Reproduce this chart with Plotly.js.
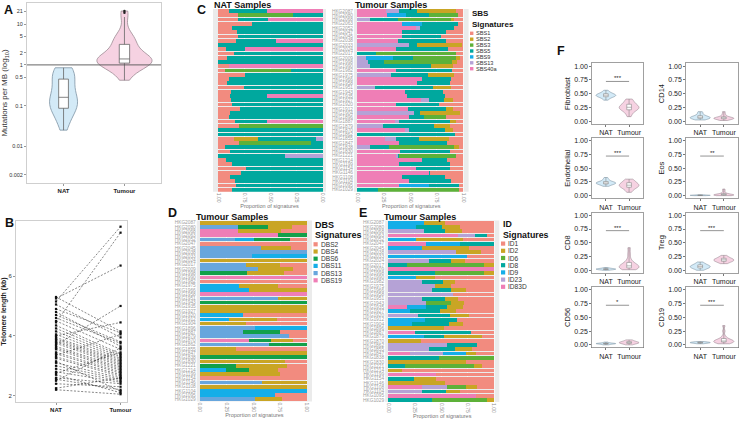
<!DOCTYPE html>
<html>
<head>
<meta charset="utf-8">
<script src="https://cdn.plot.ly/plotly-3.0.1.min.js"></script>
<style>
  body { margin: 0; background: #fff; }
  #fig { width: 742px; height: 422px; }
</style>
</head>
<body>
<div id="fig"></div>
<script>
// ---- data ----
const groups = ['NAT', 'Tumour'];

// A: mutations per MB
const mutNat = [0.025, 0.03, 0.036, 0.042, 0.05, 0.058, 0.065, 0.072, 0.078, 0.082, 0.085, 0.09, 0.095, 0.1, 0.11,
  0.12, 0.125, 0.13, 0.14, 0.145, 0.15, 0.16, 0.17, 0.19, 0.21, 0.23, 0.26, 0.29, 0.32, 0.36, 0.4, 0.44, 0.45,
  0.5, 0.55, 0.6, 0.65, 0.7, 0.74, 0.78, 0.82, 0.84, 0.85];
const mutTumour = [0.42, 0.5, 0.6, 0.7, 0.8, 0.88, 0.95, 1.0, 1.03, 1.06, 1.1, 1.12, 1.15, 1.18, 1.2, 1.22, 1.25,
  1.28, 1.3, 1.33, 1.36, 1.4, 1.45, 1.5, 1.6, 1.7, 1.8, 1.95, 2.1, 2.3, 2.6, 2.9, 3.3, 3.6, 3.9, 4.2, 4.6, 5.0,
  5.2, 7.5, 15, 19, 21];
const mutTicks = [0.002, 0.01, 0.1, 0.5, 1, 2, 5, 10, 21];

// B: telomere length, paired
const telNat = [5.15, 4.45, 5.25, 3.7, 4.0, 5.3, 4.9, 5.05, 4.7, 4.6, 4.8, 4.5, 4.35, 4.25, 4.15, 4.05, 3.95, 3.9,
  3.85, 3.8, 3.75, 3.65, 3.6, 3.55, 3.45, 3.4, 3.3, 3.25, 3.1, 3.0, 2.9, 2.8, 2.75, 2.6, 2.5, 2.4, 2.25, 2.55, 2.7,
  2.2, 3.35, 3.15];
const telTumour = [7.65, 7.45, 6.35, 5.0, 4.45, 4.15, 4.1, 3.95, 3.8, 3.75, 3.65, 3.55, 3.4, 3.35, 3.3, 3.25, 3.2,
  3.15, 3.1, 3.05, 3.0, 2.95, 2.9, 2.85, 2.8, 2.75, 2.7, 2.65, 2.6, 2.55, 2.5, 2.45, 3.45, 2.4, 3.6, 2.3, 2.6, 2.2,
  2.1, 2.05, 4.05, 2.15];

const sampleIds = ['HKG2087', 'HKG2080', 'HKG2068', 'HKG2063', 'HKG2052', 'HKG2047', 'HKG2045', 'HKG2038',
  'HKG2033', 'HKG2024', 'HKG2017', 'HKG2009', 'HKG1998', 'HKG1990', 'HKG1982', 'HKG1975', 'HKG1966', 'HKG1958',
  'HKG1951', 'HKG1943', 'HKG1935', 'HKG1927', 'HKG1920', 'HKG1912', 'HKG1904', 'HKG1896', 'HKG1887', 'HKG1879',
  'HKG1870', 'HKG1862', 'HKG1855', 'HKG1847', 'HKG1838', 'HKG1830', 'HKG1221', 'HKG1214', 'HKG1199', 'HKG1154',
  'HKG1146', 'HKG1108', 'HKG1104', 'HKG1095', 'HKG1029'];

// C: SBS signatures, one row per sample
const sbsNames = ['SBS1', 'SBS2', 'SBS3', 'SBS5', 'SBS9', 'SBS13', 'SBS40a'];
const sbsColors = ['#F28B7F', '#C9A524', '#5DB139', '#00A89E', '#15AEE8', '#B5A2D6', '#EF7EB6'];
const sbsNat = [
  [.10, 0, 0, .365, 0, 0, .535], [.19, 0, .52, .29, 0, 0, 0], [.185, 0, 0, .29, 0, 0, .525], [.32, 0, 0, .68, 0, 0, 0],
  [.13, 0, 0, .87, 0, 0, 0], [.18, 0, 0, .82, 0, 0, 0], [.185, 0, 0, .815, 0, 0, 0], [.17, 0, 0, .38, 0, 0, .45],
  [0, 0, 0, 1, 0, 0, 0], [.07, 0, 0, .19, 0, 0, .74], [.15, 0, 0, .85, 0, 0, 0], [.085, 0, 0, .915, 0, 0, 0],
  [0, 0, 0, 1, 0, 0, 0], [.10, 0, 0, 0, 0, 0, .90], [.065, 0, .63, .305, 0, 0, 0], [.26, 0, 0, .74, 0, 0, 0],
  [.10, 0, 0, .90, 0, 0, 0], [.08, 0, 0, .92, 0, 0, 0], [.245, 0, 0, .755, 0, 0, 0], [.12, 0, 0, .88, 0, 0, 0],
  [.11, 0, 0, .36, 0, 0, .53], [.125, 0, 0, .875, 0, 0, 0], [.13, 0, 0, .87, 0, 0, 0], [.21, 0, 0, .79, 0, 0, 0],
  [.115, 0, 0, .885, 0, 0, 0], [.10, 0, 0, .90, 0, 0, 0], [.16, 0, 0, .305, 0, 0, .535], [.20, 0, .80, 0, 0, 0, 0],
  [0, 0, 0, 1, 0, 0, 0], [0, 0, 0, 1, 0, 0, 0], [.15, .23, 0, .55, 0, .07, 0], [.20, 0, .69, .11, 0, 0, 0],
  [.065, 0, 0, .935, 0, 0, 0], [.11, 0, 0, .89, 0, 0, 0], [0, 0, 0, .635, 0, .365, 0], [.075, 0, 0, .925, 0, 0, 0],
  [.135, 0, 0, .865, 0, 0, 0], [.27, 0, 0, .73, 0, 0, 0], [.22, 0, 0, .78, 0, 0, 0], [.11, 0, 0, .89, 0, 0, 0],
  [.16, 0, 0, .84, 0, 0, 0], [.165, 0, 0, .835, 0, 0, 0], [.13, 0, 0, .87, 0, 0, 0]
];
const sbsTumour = [
  [.07, .37, 0, .17, 0, .12, .27], [.05, 0, .27, .22, .18, 0, .28], [.09, .03, .50, .26, 0, .12, 0],
  [.05, 0, 0, .335, .195, 0, .42], [.085, 0, 0, .32, 0, .045, .55], [.16, 0, 0, .42, 0, 0, .42],
  [.21, 0, 0, .37, 0, 0, .42], [.165, 0, 0, .45, 0, 0, .385], [.01, .425, 0, .075, 0, .49, 0],
  [.14, 0, 0, .49, 0, 0, .37], [.065, 0, .755, .18, 0, 0, 0], [.035, .03, .405, .19, .26, .08, 0],
  [.06, .045, .64, .155, 0, .10, 0], [.095, .21, 0, .57, 0, .125, 0], [.11, 0, 0, .52, 0, 0, .37],
  [.085, .245, 0, .355, 0, .315, 0], [.12, 0, 0, .27, 0, 0, .61], [.125, 0, 0, .315, 0, 0, .56],
  [.12, .165, 0, .545, 0, .17, 0], [.19, 0, 0, .36, 0, 0, .45], [.17, 0, 0, .36, 0, 0, .47],
  [.095, .09, 0, .14, 0, .075, .60], [.23, 0, 0, .40, 0, 0, .37], [.095, .065, 0, .36, 0, 0, .48],
  [.03, .38, 0, .055, 0, .535, 0], [.165, 0, .21, .135, 0, 0, .49], [.07, .06, 0, .475, 0, .035, .36],
  [.125, .15, 0, .485, 0, .24, 0], [.095, .08, 0, .34, 0, .035, .45], [.08, 0, 0, .92, 0, 0, 0],
  [.135, .285, 0, .21, 0, .11, .26], [.155, 0, 0, .45, 0, 0, .395], [.04, .045, .615, .175, 0, .125, 0],
  [.13, 0, 0, .47, 0, 0, .40], [.065, 0, .54, .015, 0, .015, .365], [.15, 0, 0, .24, 0, 0, .61],
  [.13, 0, 0, .475, 0, 0, .395], [.125, 0, 0, .32, 0, 0, .555], [.31, 0, 0, .015, 0, 0, .675],
  [.175, 0, 0, .405, 0, 0, .42], [.115, 0, 0, .395, 0, 0, .49], [.04, 0, 0, .285, .28, 0, .395],
  [.045, 0, .755, .20, 0, 0, 0]
];

// D: DBS signatures
const dbsNames = ['DBS2', 'DBS4', 'DBS6', 'DBS11', 'DBS13', 'DBS19'];
const dbsColors = ['#F28B7F', '#C9A524', '#12A04A', '#15AEE8', '#67A6DD', '#EF7EB6'];
const dbsTumour = [
  [0, 1, 0, 0, 0, 0], [.14, .225, .275, 0, .36, 0], [.24, .40, 0, 0, 0, .36], [0, 0, .27, 0, 0, .73],
  [.155, 0, .335, .18, .33, 0], [1, 0, 0, 0, 0, 0], [.145, .285, 0, 0, .57, 0], [0, 0, 0, 0, 1, 0],
  [0, 0, 0, .515, .485, 0], [0, 1, 0, 0, 0, 0], [.25, .32, 0, 0, .43, 0], [.125, .335, 0, 0, .54, 0],
  [.21, .345, .445, 0, 0, 0], [0, 0, 0, 0, 0, 1], [1, 0, 0, 0, 0, 0], [.27, .365, 0, .365, 0, 0],
  [0, .545, 0, .455, 0, 0], [0, 0, 0, 0, 0, 1], [0, .27, 0, 0, .73, 0], [0, 0, 1, 0, 0, 0],
  [0, 1, 0, 0, 0, 0], [0, 1, 0, 0, 0, 0], [.60, 0, 0, .40, 0, 0], [.28, .45, 0, .27, 0, 0],
  [.57, .43, 0, 0, 0, 0], [0, 0, 0, .485, .515, 0], [.25, 0, .35, 0, .40, 0], [.165, 0, 0, 0, .835, 0],
  [.13, .205, .205, 0, 0, .46], [0, 0, .35, 0, .65, 0], [.665, .335, 0, 0, 0, 0], [0, 1, 0, 0, 0, 0],
  [0, 0, 1, 0, 0, 0], [.20, .80, 0, 0, 0, 0], [.185, .48, .335, 0, 0, 0], [.265, .28, .21, .245, 0, 0],
  [.25, .75, 0, 0, 0, 0], [1, 0, 0, 0, 0, 0], [0, .42, 0, 0, .58, 0], [0, 1, 0, 0, 0, 0],
  [0, 0, 0, 1, 0, 0], [.30, 0, 0, .70, 0, 0], [.235, .245, 0, 0, .52, 0]
];

// E: ID signatures
const idNames = ['ID1', 'ID2', 'ID6', 'ID8', 'ID9', 'ID23', 'ID83D'];
const idColors = ['#F28B7F', '#C9A524', '#5DB139', '#00A89E', '#15AEE8', '#B5A2D6', '#EF7EB6'];
const idTumour = [
  [.46, .20, 0, 0, .34, 0, 0], [.32, .175, 0, .245, .26, 0, 0], [.30, .16, 0, .20, 0, .34, 0],
  [.07, 0, 0, .11, 0, .165, .655], [.29, .45, 0, 0, .26, 0, 0], [0, 0, 0, .325, .32, 0, .355],
  [.235, .45, 0, 0, .315, 0, 0], [.12, .235, 0, 0, 0, .645, 0], [.26, 0, 0, 0, .74, 0, 0],
  [.275, .135, 0, .205, 0, .385, 0], [0, .095, .725, .18, 0, 0, 0], [0, 0, 0, 0, 0, 0, 1],
  [0, .095, .465, .44, 0, 0, 0], [.56, .18, 0, 0, .26, 0, 0], [.37, .11, 0, .205, 0, .315, 0],
  [.41, .15, 0, 0, 0, .44, 0], [.265, .14, 0, .185, 0, .41, 0], [.385, 0, 0, 0, 0, .615, 0],
  [.34, .125, 0, .22, 0, .315, 0], [.28, .13, .235, 0, 0, .355, 0], [.29, .15, 0, .205, .175, 0, .18],
  [.36, .15, 0, .285, .205, 0, 0], [.235, .18, 0, .30, 0, .285, 0], [.35, 0, 0, .30, .35, 0, 0],
  [.295, .13, 0, .355, .22, 0, 0], [.475, .525, 0, 0, 0, 0, 0], [.22, 0, 0, .53, 0, 0, .25],
  [.115, .355, 0, .19, .34, 0, 0], [.69, .31, 0, 0, 0, 0, 0], [.165, 0, 0, .275, 0, .56, 0],
  [.205, .165, 0, .245, 0, .385, 0], [.17, .095, 0, 0, .215, .315, .205], [0, 0, .52, .48, 0, 0, 0],
  [.265, .735, 0, 0, 0, 0, 0], [.115, .07, .655, .16, 0, 0, 0], [.87, .13, 0, 0, 0, 0, 0],
  [.55, 0, 0, 0, 0, 0, .45], [.55, .205, 0, .245, 0, 0, 0], [.465, .535, 0, 0, 0, 0, 0],
  [.16, .105, .175, 0, 0, .245, .315], [.325, .125, 0, .23, 0, .32, 0], [.17, 0, 0, 0, 0, 0, .83],
  [0, .07, .52, .41, 0, 0, 0]
];

// F: cell type fractions
const cellTypes = ['Fibroblast', 'CD14', 'Endothelial', 'Eos', 'CD8', 'Treg', 'CD56', 'CD19'];
const cellSig = ['***', '', '***', '**', '***', '***', '*', '***'];
const fibroblastNat = [0.38, 0.41, 0.43, 0.44, 0.45, 0.46, 0.46, 0.47, 0.47, 0.48, 0.49, 0.50, 0.51, 0.53, 0.56];
const fibroblastTumour = [0.08, 0.14, 0.18, 0.20, 0.22, 0.23, 0.24, 0.25, 0.26, 0.27, 0.29, 0.31, 0.34, 0.37, 0.40];
const cd14Nat = [0.02, 0.03, 0.04, 0.05, 0.05, 0.06, 0.06, 0.07, 0.07, 0.08, 0.09, 0.10, 0.12, 0.15, 0.17];
const cd14Tumour = [0.01, 0.02, 0.03, 0.04, 0.04, 0.05, 0.05, 0.05, 0.06, 0.06, 0.07, 0.08, 0.10, 0.13, 0.17];
const endothelialNat = [0.17, 0.19, 0.20, 0.21, 0.22, 0.22, 0.23, 0.23, 0.24, 0.24, 0.25, 0.26, 0.28, 0.30, 0.33];
const endothelialTumour = [0.06, 0.10, 0.13, 0.15, 0.16, 0.17, 0.18, 0.19, 0.20, 0.21, 0.22, 0.24, 0.26, 0.28, 0.30];
const eosNat = [0, 0, 0.002, 0.003, 0.004, 0.005, 0.005, 0.006, 0.007, 0.008, 0.009, 0.01, 0.011, 0.012, 0.015];
const eosTumour = [0, 0.002, 0.005, 0.008, 0.01, 0.012, 0.015, 0.018, 0.02, 0.025, 0.03, 0.04, 0.06, 0.09, 0.12];
const cd8Nat = [0, 0.005, 0.01, 0.012, 0.015, 0.018, 0.02, 0.02, 0.022, 0.025, 0.028, 0.03, 0.035, 0.04, 0.05];
const cd8Tumour = [0.01, 0.02, 0.03, 0.04, 0.05, 0.06, 0.07, 0.08, 0.09, 0.10, 0.12, 0.15, 0.20, 0.30, 0.41];
const tregNat = [0.0, 0.02, 0.03, 0.04, 0.05, 0.06, 0.06, 0.07, 0.07, 0.08, 0.09, 0.10, 0.11, 0.13, 0.15];
const tregTumour = [0.12, 0.14, 0.15, 0.16, 0.17, 0.18, 0.18, 0.19, 0.19, 0.20, 0.21, 0.22, 0.23, 0.25, 0.27];
const cd56Nat = [0, 0.005, 0.01, 0.015, 0.018, 0.02, 0.02, 0.022, 0.025, 0.025, 0.028, 0.03, 0.035, 0.04, 0.05];
const cd56Tumour = [0, 0.01, 0.02, 0.025, 0.03, 0.035, 0.04, 0.04, 0.045, 0.05, 0.055, 0.06, 0.07, 0.08, 0.09];
const cd19Nat = [0.02, 0.025, 0.03, 0.032, 0.035, 0.037, 0.04, 0.04, 0.042, 0.045, 0.047, 0.05, 0.052, 0.055, 0.06];
const cd19Tumour = [0.02, 0.03, 0.04, 0.05, 0.055, 0.06, 0.065, 0.07, 0.08, 0.09, 0.10, 0.12, 0.16, 0.25, 0.35];

const cellNat = [fibroblastNat, cd14Nat, endothelialNat, eosNat, cd8Nat, tregNat, cd56Nat, cd19Nat];
const cellTumour = [fibroblastTumour, cd14Tumour, endothelialTumour, eosTumour, cd8Tumour, tregTumour, cd56Tumour, cd19Tumour];

// ---- layout helpers ----
const W = 742, H = 422;
const FONT = 'Liberation Sans, Arial, sans-serif';
const natFill = '#D3EAF7', natLine = '#7D93A3';
const tumFill = '#F6D2E2', tumLine = '#9C8A93';

function xd(a, b) { return [a / W, b / W]; }
function yd(a, b) { return [1 - b / H, 1 - a / H]; }

const traces = [];
const shapes = [];
const annotations = [];

function label(text, x, y, size, opts) {
    annotations.push(Object.assign({
        text: text, x: x / W, y: 1 - y / H, xref: 'paper', yref: 'paper',
        showarrow: false, xanchor: 'left', yanchor: 'middle',
        font: { family: FONT, size: size, color: '#111' }
    }, opts || {}));
}

const layout = {
    width: W, height: H,
    margin: { l: 0, r: 0, t: 0, b: 0 },
    paper_bgcolor: '#fff', plot_bgcolor: '#fff',
    showlegend: false,
    barmode: 'stack', bargap: 0.12,
    violinmode: 'overlay', boxmode: 'overlay',
    font: { family: FONT },
    shapes: shapes, annotations: annotations
};

// ---- A: violins on log10 scale ----
const logNat = mutNat.map(Math.log10);
const logTum = mutTumour.map(Math.log10);
traces.push({ type: 'violin', x0: 'NAT', y: logNat, width: 0.46, spanmode: 'hard', points: false,
    fillcolor: natFill, line: { color: natLine, width: 0.8 }, scalegroup: 'a1', hoverinfo: 'skip', xaxis: 'x', yaxis: 'y' });
traces.push({ type: 'violin', x0: 'Tumour', y: logTum, width: 0.9, spanmode: 'hard', points: false,
    fillcolor: tumFill, line: { color: tumLine, width: 0.8 }, scalegroup: 'a2', hoverinfo: 'skip', xaxis: 'x', yaxis: 'y' });
traces.push({ type: 'box', x0: 'NAT', y: logNat, width: 0.16, fillcolor: '#fff', line: { color: '#666', width: 0.8 },
    whiskerwidth: 0, boxpoints: 'outliers', marker: { color: '#222', size: 2.5 }, hoverinfo: 'skip', xaxis: 'x', yaxis: 'y' });
traces.push({ type: 'box', x0: 'Tumour', y: logTum, width: 0.17, fillcolor: '#fff', line: { color: '#666', width: 0.8 },
    whiskerwidth: 0, boxpoints: 'outliers', marker: { color: '#222', size: 2.5 }, hoverinfo: 'skip', xaxis: 'x', yaxis: 'y' });
layout.xaxis = { domain: xd(27, 161), anchor: 'y', type: 'category', categoryorder: 'array', categoryarray: groups,
    range: [-0.6, 1.6], showline: true, mirror: true, linecolor: '#cfcfcf', linewidth: 1, ticks: 'outside', ticklen: 2,
    tickcolor: '#999', tickfont: { size: 6, color: '#222', weight: 'bold' }, showgrid: false, zeroline: false };
layout.yaxis = { domain: yd(3, 183), anchor: 'x', range: [-2.9, 1.52], tickmode: 'array',
    tickvals: mutTicks.map(Math.log10), ticktext: mutTicks.map(String), showline: true, mirror: true,
    linecolor: '#cfcfcf', linewidth: 1, ticks: 'outside', ticklen: 2, tickcolor: '#999',
    tickfont: { size: 5.5, color: '#333' }, showgrid: false, zeroline: false,
    title: { text: 'Mutations per MB (log<sub>10</sub>)', font: { size: 8, color: '#333' }, standoff: 3 } };
shapes.push({ type: 'line', xref: 'x domain', yref: 'y', x0: 0, x1: 1, y0: 0, y1: 0, line: { color: '#555', width: 0.9 } });

// ---- B: paired telomere lengths ----
const pairX = [], pairY = [];
telNat.forEach((v, i) => {
    pairX.push(0, 1, null);
    pairY.push(v, telTumour[i], null);
});
traces.push({ type: 'scatter', mode: 'lines+markers', x: pairX, y: pairY, xaxis: 'x2', yaxis: 'y2',
    line: { color: '#222', width: 0.55, dash: '2px,1.6px' }, marker: { color: '#111', size: 2.2, symbol: 'square' },
    hoverinfo: 'skip' });
layout.xaxis2 = { domain: xd(16, 127), anchor: 'y2', range: [-0.62, 1.1], tickmode: 'array', tickvals: [0, 1],
    ticktext: groups, showline: true, mirror: true, linecolor: '#cfcfcf', ticks: 'outside', ticklen: 2,
    tickcolor: '#999', tickfont: { size: 6, color: '#222', weight: 'bold' }, showgrid: false, zeroline: false };
layout.yaxis2 = { domain: yd(221, 402), anchor: 'x2', range: [1.79, 7.84], tickvals: [2, 4, 6],
    showline: true, mirror: true, linecolor: '#cfcfcf', ticks: 'outside', ticklen: 2, tickcolor: '#999',
    tickfont: { size: 6, color: '#333' }, showgrid: false, zeroline: false,
    title: { text: 'Telomere length (kb)', font: { size: 7, color: '#222', weight: 'bold' }, standoff: 3 } };

// ---- C, D, E: stacked signature bars ----
function barXAxis(a, b, y, range) {
    return { domain: xd(a, b), anchor: y, range: range, tickmode: 'array', tickvals: [0, 0.25, 0.5, 0.75, 1],
        ticktext: ['0.00', '0.25', '0.50', '0.75', '1.00'], tickangle: 90, tickfont: { size: 5, color: '#8a8a8a' },
        ticks: '', showgrid: true, gridcolor: '#fff', gridwidth: 0.6, zeroline: false, showline: false,
        title: { text: 'Proportion of signatures', font: { size: 5.5, color: '#777' }, standoff: 1 } };
}
function barYAxis(a, b, x, showLabels) {
    return { domain: yd(a, b), anchor: x, type: 'category', autorange: 'reversed', tickmode: 'array',
        tickvals: sampleIds, showticklabels: showLabels, tickfont: { size: 4.8, color: '#a0a0a0' },
        ticks: '', showgrid: false, zeroline: false };
}
function addBars(rows, names, colors, ax, ay) {
    for (let k = names.length - 1; k >= 0; k--) {
        traces.push({ type: 'bar', orientation: 'h', y: sampleIds, x: rows.map(r => r[k]), name: names[k],
            marker: { color: colors[k], line: { width: 0 } }, xaxis: ax, yaxis: ay, hoverinfo: 'skip' });
    }
    shapes.push({ type: 'rect', xref: ax + ' domain', yref: ay + ' domain', x0: 0, x1: 1, y0: 0, y1: 1,
        fillcolor: '#EBEBEB', line: { width: 0 }, layer: 'below' });
}
function addLegend(x, yTitle, ySub, yFirst, step, title, names, colors, titleSize, itemSize, sw) {
    const tf = { family: FONT, size: titleSize, color: '#111', weight: 'bold' };
    label(title, x, yTitle, titleSize, { font: tf });
    label('Signatures', x, ySub, titleSize, { font: tf });
    names.forEach((n, k) => {
        const y = yFirst + step * k;
        shapes.push({ type: 'rect', xref: 'paper', yref: 'paper', x0: (x + 0.5) / W, x1: (x + 0.5 + sw) / W,
            y0: 1 - (y + sw / 2) / H, y1: 1 - (y - sw / 2) / H, fillcolor: colors[k], line: { width: 0 } });
        label(n, x + sw + 1.5, y, itemSize, { font: { family: FONT, size: itemSize, color: '#333' } });
    });
}

addBars(sbsNat, sbsNames, sbsColors, 'x3', 'y3');
layout.xaxis3 = barXAxis(213, 326, 'y3', [1.05, -0.03]);
layout.yaxis3 = barYAxis(8.9, 191.8, 'x3', false);
addBars(sbsTumour, sbsNames, sbsColors, 'x4', 'y4');
layout.xaxis4 = barXAxis(354, 468.6, 'y4', [-0.03, 1.05]);
layout.yaxis4 = barYAxis(8.9, 191.8, 'x4', true);
addBars(dbsTumour, dbsNames, dbsColors, 'x5', 'y5');
layout.xaxis5 = barXAxis(196.8, 312, 'y5', [-0.03, 1.05]);
layout.yaxis5 = barYAxis(220.6, 401.4, 'x5', true);
addBars(idTumour, idNames, idColors, 'x6', 'y6');
layout.xaxis6 = barXAxis(385.1, 499.3, 'y6', [-0.03, 1.05]);
layout.yaxis6 = barYAxis(220.6, 402, 'x6', true);

addLegend(469.5, 13.5, 24.2, 33.3, 5.9, 'SBS', sbsNames, sbsColors, 8, 5.6, 3.4);
addLegend(313, 224.5, 235, 244.3, 7.2, 'DBS', dbsNames, dbsColors, 9, 6.6, 4.2);
addLegend(500.5, 224, 234.5, 243.6, 7.2, 'ID', idNames, idColors, 8.8, 6.6, 4.2);

const bold = (s) => ({ family: FONT, size: s, color: '#111', weight: 'bold' });
label('NAT Samples', 212, 5.5, 9, { font: bold(9) });
label('Tumour Samples', 353, 5.5, 9, { font: bold(9) });
label('Tumour Samples', 194, 216.5, 9, { font: bold(9) });
label('Tumour Samples', 382, 216.5, 9, { font: bold(9) });

// ---- F: cell type violins ----
cellTypes.forEach((name, i) => {
    const n = 7 + i;
    const col = i % 2, row = Math.floor(i / 2);
    const xa = 'x' + n, ya = 'y' + n;
    const xs = col === 0 ? [592, 643] : [686, 738];
    const top = 63.3 + 74.6 * row;
    [[cellNat[i], 'NAT', natFill, natLine], [cellTumour[i], 'Tumour', tumFill, tumLine]].forEach(([vals, g, fc, lc]) => {
        traces.push({ type: 'violin', x0: g, y: vals, width: 0.85, spanmode: 'hard', points: false,
            fillcolor: fc, line: { color: lc, width: 0.6 }, xaxis: xa, yaxis: ya, hoverinfo: 'skip' });
        traces.push({ type: 'box', x0: g, y: vals, width: 0.2, fillcolor: '#fff', line: { color: '#777', width: 0.5 },
            whiskerwidth: 0, boxpoints: false, xaxis: xa, yaxis: ya, hoverinfo: 'skip' });
    });
    layout['xaxis' + n] = { domain: xd(xs[0], xs[1]), anchor: ya, type: 'category', categoryorder: 'array',
        categoryarray: groups, range: [-0.6, 1.6], showline: true, mirror: true, linecolor: '#777', linewidth: 0.7,
        ticks: 'outside', ticklen: 2, tickcolor: '#777', tickfont: { size: 7, color: '#222' },
        showgrid: false, zeroline: false };
    layout['yaxis' + n] = { domain: yd(top, top + 60.5), anchor: xa, range: [-0.05, 1.05], tickmode: 'array',
        tickvals: [0, 0.25, 0.5, 0.75, 1], ticktext: ['0.00', '0.25', '0.50', '0.75', '1.00'],
        showline: true, mirror: true, linecolor: '#777', linewidth: 0.7, ticks: 'outside', ticklen: 2,
        tickcolor: '#777', tickfont: { size: 7, color: '#222' }, showgrid: false, zeroline: false,
        title: { text: name, font: { size: 7.5, color: '#222' }, standoff: 2 } };
    if (cellSig[i]) {
        shapes.push({ type: 'line', xref: xa, yref: ya, x0: 0, x1: 1, y0: 0.72, y1: 0.72,
            line: { color: '#666', width: 0.7 } });
        annotations.push({ text: cellSig[i], xref: xa, yref: ya, x: 0.5, y: 0.72, yanchor: 'bottom',
            showarrow: false, yshift: -2, font: { family: FONT, size: 6, color: '#222' } });
    }
});

// ---- panel letters ----
[['A', 1.5, 10.5], ['B', 2.5, 223], ['C', 195, 10], ['D', 165.5, 213], ['E', 356.5, 213], ['F', 554.5, 51]]
    .forEach(([t, x, y]) => label(t, x, y, 12.5, { font: bold(12.5) }));

Plotly.newPlot('fig', traces, layout, { staticPlot: true });
</script>
</body>
</html>
